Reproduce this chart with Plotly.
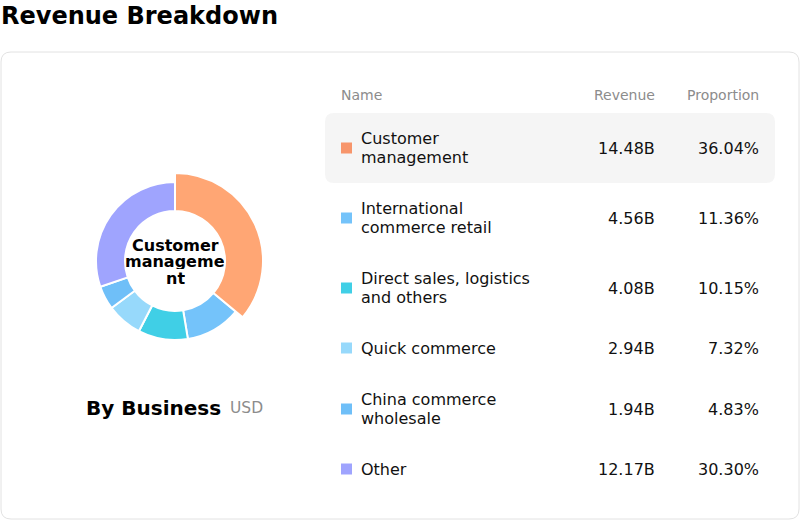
import plotly.graph_objects as go

# ---- data ----
categories = ["Customer management", "International commerce retail",
              "Direct sales, logistics and others", "Quick commerce",
              "China commerce wholesale", "Other"]
name_lines = [["Customer", "management"], ["International", "commerce retail"],
              ["Direct sales, logistics", "and others"], ["Quick commerce"],
              ["China commerce", "wholesale"], ["Other"]]
revenue_b = [14.48, 4.56, 4.08, 2.94, 1.94, 12.17]
proportion = [36.04, 11.36, 10.15, 7.32, 4.83, 30.30]
slice_colors = ["#FFA674", "#74C3FA", "#40CFE6", "#97D9FB", "#6FBFF8", "#9FA4FE"]
legend_colors = ["#F7956B", "#74C3FA", "#40CFE6", "#97D9FB", "#6FBFF8", "#9FA4FE"]
center_label = ["Customer", "manageme", "nt"]
highlight = 0

W, H = 800, 520
FONT = "DejaVu Sans"

def rrect(x0, y0, x1, y1, r):
    return (f"M{x0+r},{y0} L{x1-r},{y0} Q{x1},{y0} {x1},{y0+r} "
            f"L{x1},{y1-r} Q{x1},{y1} {x1-r},{y1} L{x0+r},{y1} "
            f"Q{x0},{y1} {x0},{y1-r} L{x0},{y0+r} Q{x0},{y0} {x0+r},{y0} Z")

fig = go.Figure()

# donut geometry (pixels)
cx, cy, r_out, r_big, r_in = 175, 261, 79, 88, 50

def dom(r):
    return dict(x=[(cx - r) / W, (cx + r) / W], y=[1 - (cy + r) / H, 1 - (cy - r) / H])

fig.add_trace(go.Pie(values=revenue_b, labels=categories, sort=False,
                     direction="clockwise", rotation=0, hole=r_in / r_out,
                     marker=dict(colors=slice_colors, line=dict(color="white", width=2)),
                     textinfo="none", hoverinfo="skip", domain=dom(r_out), showlegend=False))
big_colors = [c if i == highlight else "rgba(0,0,0,0)" for i, c in enumerate(slice_colors)]
big_lines = ["white" if i == highlight else "rgba(0,0,0,0)" for i in range(len(categories))]
fig.add_trace(go.Pie(values=revenue_b, labels=categories, sort=False,
                     direction="clockwise", rotation=0, hole=r_in / r_big,
                     marker=dict(colors=big_colors, line=dict(color=big_lines, width=2)),
                     textinfo="none", hoverinfo="skip", domain=dom(r_big), showlegend=False))

shapes = [
    dict(type="path", path=rrect(1, 52, 799, 519, 10), xref="x", yref="y",
         line=dict(color="#E2E2E2", width=1), fillcolor="rgba(0,0,0,0)", layer="below"),
]
row_y = [148, 218, 288, 348, 409, 469]
hy0, hy1 = row_y[highlight] - 35, row_y[highlight] + 35
shapes.append(dict(type="path", path=rrect(325, hy0, 775, hy1, 9), xref="x", yref="y",
                   line=dict(width=0), fillcolor="#F5F5F5", layer="below"))

# legend squares
fig.add_trace(go.Scatter(x=[346.5] * len(categories), y=row_y, mode="markers",
                         marker=dict(symbol="square", size=11, color=legend_colors),
                         hoverinfo="skip", showlegend=False))

ann = []
ann.append(dict(text="<b>Revenue Breakdown</b>", x=1, y=16, xanchor="left", yanchor="middle",
                font=dict(size=24, color="#000000", family=FONT)))
for t, x, xa in [("Name", 341, "left"), ("Revenue", 655, "right"), ("Proportion", 759, "right")]:
    ann.append(dict(text=t, x=x, y=95, xanchor=xa, yanchor="middle",
                    font=dict(size=14, color="#8C8C8C", family=FONT)))
for i, cat in enumerate(categories):
    yy = row_y[i]
    lines = name_lines[i]
    n = len(lines)
    for j, ln in enumerate(lines):
        ann.append(dict(text=ln, x=361, y=yy + (j - (n - 1) / 2) * 19, xanchor="left",
                        yanchor="middle", font=dict(size=16, color="#111111", family=FONT)))
    ann.append(dict(text=f"{revenue_b[i]:.2f}B", x=655, y=yy, xanchor="right", yanchor="middle",
                    font=dict(size=16, color="#111111", family=FONT)))
    ann.append(dict(text=f"{proportion[i]:.2f}%", x=759, y=yy, xanchor="right", yanchor="middle",
                    font=dict(size=16, color="#111111", family=FONT)))
for j, ln in enumerate(center_label):
    ann.append(dict(text=f"<b>{ln}</b>", x=cx, y=cy - 16.5 + j * 16.5, xanchor="center",
                    yanchor="middle", height=16, font=dict(size=16, color="#000000", family=FONT)))
ann.append(dict(text="<b>By Business</b>", x=221, y=408, xanchor="right", yanchor="middle",
                font=dict(size=20, color="#000000", family=FONT)))
ann.append(dict(text="USD", x=230, y=408, xanchor="left", yanchor="middle",
                font=dict(size=15.5, color="#8C8C8C", family=FONT)))
for a in ann:
    a.update(xref="x", yref="y", showarrow=False, borderpad=0, borderwidth=0)

fig.update_layout(
    width=W, height=H, margin=dict(l=0, r=0, t=0, b=0),
    paper_bgcolor="white", plot_bgcolor="rgba(0,0,0,0)",
    xaxis=dict(range=[0, W], visible=False, fixedrange=True, domain=[0, 1]),
    yaxis=dict(range=[H, 0], visible=False, fixedrange=True, domain=[0, 1]),
    shapes=shapes, annotations=ann, font=dict(family=FONT), showlegend=False,
)
fig.write_html("out.html", config={"displayModeBar": False},
               post_script="document.body.style.margin='0';document.body.style.padding='0';")
